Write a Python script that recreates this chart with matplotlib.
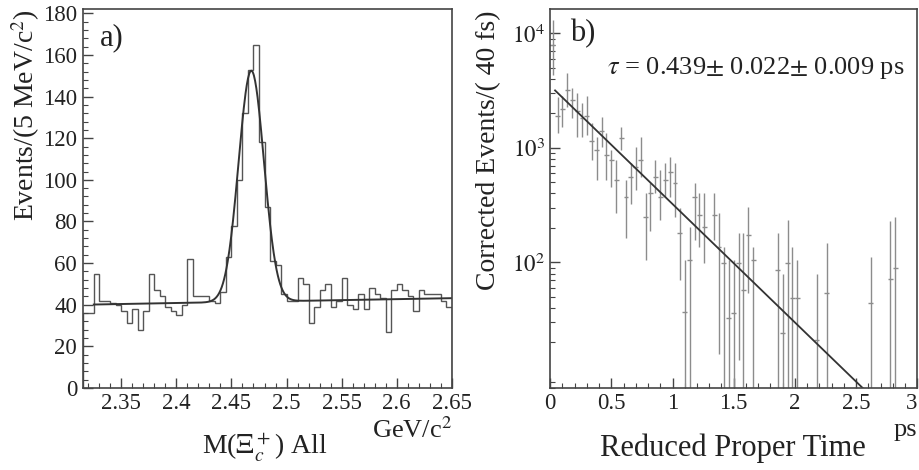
import numpy as np
import matplotlib
matplotlib.use('Agg')
import matplotlib.pyplot as plt
from matplotlib.ticker import MultipleLocator, FixedLocator, FixedFormatter, LogLocator, NullFormatter

plt.rcParams['font.family'] = ['Liberation Serif', 'DejaVu Serif']
plt.rcParams['mathtext.fontset'] = 'stix'

# ---- a) invariant mass, 5 MeV bins
mass_lo = 2.315
bin_w = 0.005
counts = [36, 36, 55, 42, 42, 41, 40, 37, 31, 38, 28, 37, 55, 47, 44, 39, 37, 35, 40, 62,
          44, 44, 44, 42, 41, 46, 63, 78, 100, 132, 153, 165, 118, 87, 61, 59, 45, 42, 42, 53,
          50, 31, 39, 47, 50, 39, 42, 53, 40, 38, 45, 38, 48, 45, 43, 27, 47, 50, 47, 44,
          37, 47, 45, 45, 45, 42, 39]
mass_ticks = [2.35, 2.4, 2.45, 2.5, 2.55, 2.6, 2.65]
mass_labels = ['2.35', '2.4', '2.45', '2.5', '2.55', '2.6', '2.65']
# gaussian + linear background fit
fit_mean, fit_sigma, fit_amp = 2.468, 0.0115, 111.0
bg_240, bg_slope = 40.8, 9.4
fit_lo, fit_hi = 2.325, 2.65

# ---- b) reduced proper time, 40 fs bins
t_bin = [0.02, 0.06, 0.10, 0.14, 0.18, 0.22, 0.26, 0.30, 0.34, 0.38, 0.42, 0.46, 0.50, 0.54,
         0.58, 0.62, 0.66, 0.70, 0.74, 0.78, 0.82, 0.86, 0.90, 0.94, 0.98, 1.02, 1.06, 1.10,
         1.14, 1.18, 1.22, 1.26, 1.34, 1.38, 1.42, 1.46, 1.50, 1.54, 1.58, 1.62, 1.66, 1.86,
         1.90, 1.94, 1.98, 2.02, 2.18, 2.26, 2.62, 2.78, 2.82]
n_evt = [7850, 1920, 2210, 3180, 2600, 2120, 1810, 1920, 1160, 950, 1420, 860, 778, 520,
         1210, 370, 552, 676, 778, 247, 401, 552, 370, 520, 611, 490, 179, 37,
         104, 370, 257, 202, 257, 135, 98, 33, 36, 98, 57, 172, 104, 85,
         24, 98, 49, 49, 21, 54, 44, 72, 90]
n_hi = [13000, 2760, 2870, 4480, 3310, 2990, 2450, 2870, 1640, 1240, 1850, 1340, 950, 778,
        1510, 520, 733, 1010, 1240, 401, 490, 778, 636, 733, 826, 733, 300, 104,
        202, 490, 401, 401, 401, 268, 135, 104, 104, 179, 179, 302, 135, 179,
        80, 233, 135, 104, 80, 147, 111, 230, 250]
n_lo = [4300, 1340, 1510, 2260, 1810, 1240, 1240, 1290, 778, 520, 1010, 520, 452, 268,
        950, 165, 327, 425, 552, 104, 190, 401, 233, 370, 370, 247, 70, 1,
        1, 156, 135, 98, 156, 16, 1, 1, 1, 14, 1, 54, 1, 1,
        1, 1, 1, 1, 1, 1, 1, 1, 1]
t_half = 0.02
line_n0, line_tau = 3500.0, 0.42
time_ticks = [0, 0.5, 1, 1.5, 2, 2.5, 3]
time_labels = ['0', '0.5', '1', '1.5', '2', '2.5', '3']
log_ticks = [1e2, 1e3, 1e4]
log_labels = [r'$10^{2}$', r'$10^{3}$', r'$10^{4}$']

fig = plt.figure(figsize=(9.2, 4.7), dpi=100)
frame_col = '#444444'
txt_col = '#222222'

# ---------------- panel a
ax1 = fig.add_axes([0.090, 0.1745, 0.401, 0.806])
edges = mass_lo + bin_w * np.arange(len(counts) + 1)
ax1.stairs(counts, edges, color='#555555', lw=1.0)
m = np.linspace(fit_lo, fit_hi, 600)
fit = bg_240 + bg_slope * (m - 2.4) + fit_amp * np.exp(-0.5 * ((m - fit_mean) / fit_sigma) ** 2)
ax1.plot(m, fit, color='#333333', lw=1.4)
ax1.set_xlim(mass_lo, 2.65)
ax1.set_ylim(0, 182)
ax1.xaxis.set_major_locator(FixedLocator(mass_ticks))
ax1.xaxis.set_major_formatter(FixedFormatter(mass_labels))
ax1.xaxis.set_minor_locator(MultipleLocator(0.01))
ax1.yaxis.set_major_locator(MultipleLocator(20))
ax1.yaxis.set_minor_locator(MultipleLocator(4))
ax1.text(0.045, 0.925, 'a)', transform=ax1.transAxes, fontsize=22, va='center', color=txt_col)

# ---------------- panel b
ax2 = fig.add_axes([0.598, 0.1745, 0.399, 0.806])
t_bin = np.array(t_bin); n_evt = np.array(n_evt, float)
yerr = [n_evt - np.array(n_lo), np.array(n_hi) - n_evt]
ax2.errorbar(t_bin, n_evt, yerr=yerr, xerr=t_half, fmt='none', ecolor='#8c8c8c',
             elinewidth=1.0, capsize=0)
tt = np.linspace(0.04, 3, 300)
ax2.plot(tt, line_n0 * np.exp(-tt / line_tau), color='#333333', lw=1.3)
ax2.set_yscale('log')
ax2.set_xlim(0, 3)
ax2.set_ylim(8, 16300)
ax2.xaxis.set_major_locator(FixedLocator(time_ticks))
ax2.xaxis.set_major_formatter(FixedFormatter(time_labels))
ax2.xaxis.set_minor_locator(MultipleLocator(0.1))
ax2.yaxis.set_major_locator(FixedLocator(log_ticks))
ax2.yaxis.set_major_formatter(FixedFormatter(log_labels))
ax2.yaxis.set_minor_locator(LogLocator(base=10, subs=np.arange(2, 10), numticks=10))
ax2.yaxis.set_minor_formatter(NullFormatter())
ax2.text(0.054, 0.935, 'b)', transform=ax2.transAxes, fontsize=22, va='center', color=txt_col)
ax2.text(0.155, 0.845, r'$\tau$ = 0.439$\pm$ 0.022$\pm$ 0.009 ps', transform=ax2.transAxes,
         fontsize=19, va='center', color=txt_col)

for ax in (ax1, ax2):
    for sp in ax.spines.values():
        sp.set_color(frame_col)
        sp.set_linewidth(1.2)
    ax.tick_params(which='both', direction='in', colors=frame_col, labelcolor=txt_col,
                   labelsize=16.5, top=False, right=False)
    ax.tick_params(which='major', length=7, width=1.0)
    ax.tick_params(which='minor', length=3.5, width=0.8)
ax1.tick_params(axis='y', pad=4)
ax2.xaxis.get_majorticklabels()[-1].set_horizontalalignment('right')

# axis titles
fig.text(0.028, 0.755, r'Events/(5 MeV/c$^2$)', rotation=90, ha='center', va='center',
         fontsize=20, color=txt_col)
fig.text(0.491, 0.085, r'GeV/c$^2$', ha='right', va='center', fontsize=19, color=txt_col)
fig.text(0.288, 0.047, r'M($\Xi_c^+$) All', ha='center', va='center', fontsize=20,
         color=txt_col)
fig.text(0.531, 0.681, 'Corrected Events/( 40 fs)', rotation=90, ha='center', va='center',
         fontsize=20, color=txt_col)
fig.text(0.797, 0.047, 'Reduced Proper Time', ha='center', va='center', fontsize=22,
         color=txt_col)
fig.text(0.984, 0.085, 'ps', ha='center', va='center', fontsize=19, color=txt_col)

fig.savefig('out.png', dpi=100)
